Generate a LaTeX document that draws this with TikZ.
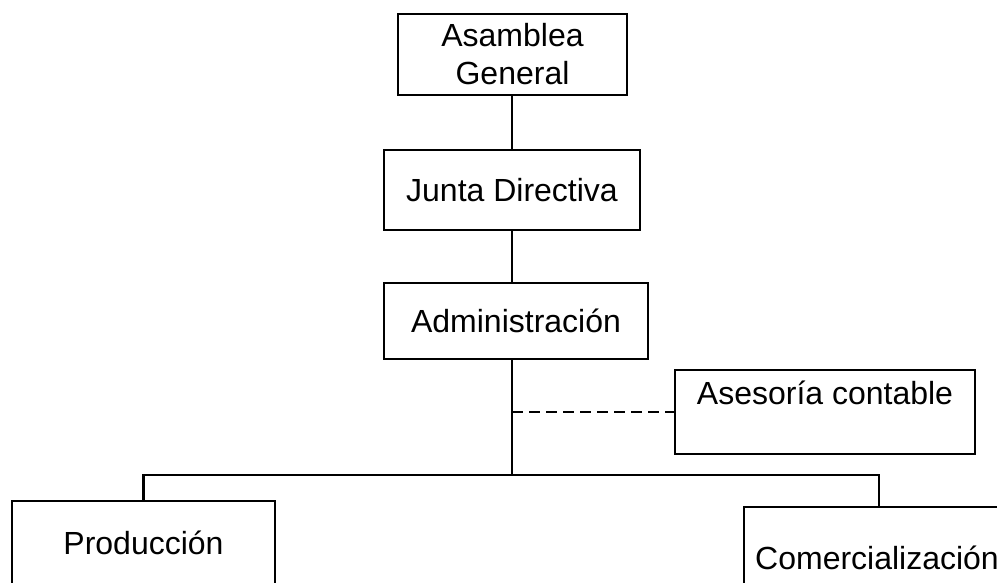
\documentclass[tikz,border=0pt]{standalone}
\usepackage{fontspec}
\setmainfont{Liberation Sans}
\begin{document}
\begin{tikzpicture}[x=1pt,y=-1pt,
  box/.style={draw=black, line width=2.2pt, rectangle, inner sep=0pt, align=center,
    font=\fontsize{32}{38}\selectfont},
  txt/.style={inner sep=0pt, font=\fontsize{32}{38}\selectfont},
  conn/.style={draw=black, line width=2.2pt},
  dashconn/.style={draw=black, line width=2.2pt, dash pattern=on 11pt off 6pt}]
\useasboundingbox (0,0) rectangle (997,582);
\clip (0,0) rectangle (997,582);
\node[box, minimum width=229, minimum height=81] (asam) at (512.5,54.5) {Asamblea\\General};
\node[box, minimum width=256, minimum height=80] (junta) at (512,190) {Junta Directiva};
\node[box, minimum width=264, minimum height=76] (admin) at (516,321) {Administración};
\node[box, minimum width=300, minimum height=84] (ase) at (825,412) {};
\node[txt] (asetxt) at ([yshift=19]ase.center) {Asesoría contable};
\node[box, minimum width=263, minimum height=84] (prod) at (143.5,543) {Producción};
\node[box, minimum width=270, minimum height=100] (com) at (879,557) {};
\node[txt, anchor=west] (comtxt) at (755,558) {Comercialización};
\coordinate (hub) at (512,475);
\draw[conn] (asam.south -| hub) -- (junta.north -| hub);
\draw[conn] (junta.south -| hub) -- (admin.north -| hub);
\draw[conn] (admin.south -| hub) -- (hub);
\draw[conn] (prod.north) |- (hub) -| (com.north);
\draw[dashconn] (hub |- ase.west) -- (ase.west);
\end{tikzpicture}
\end{document}
